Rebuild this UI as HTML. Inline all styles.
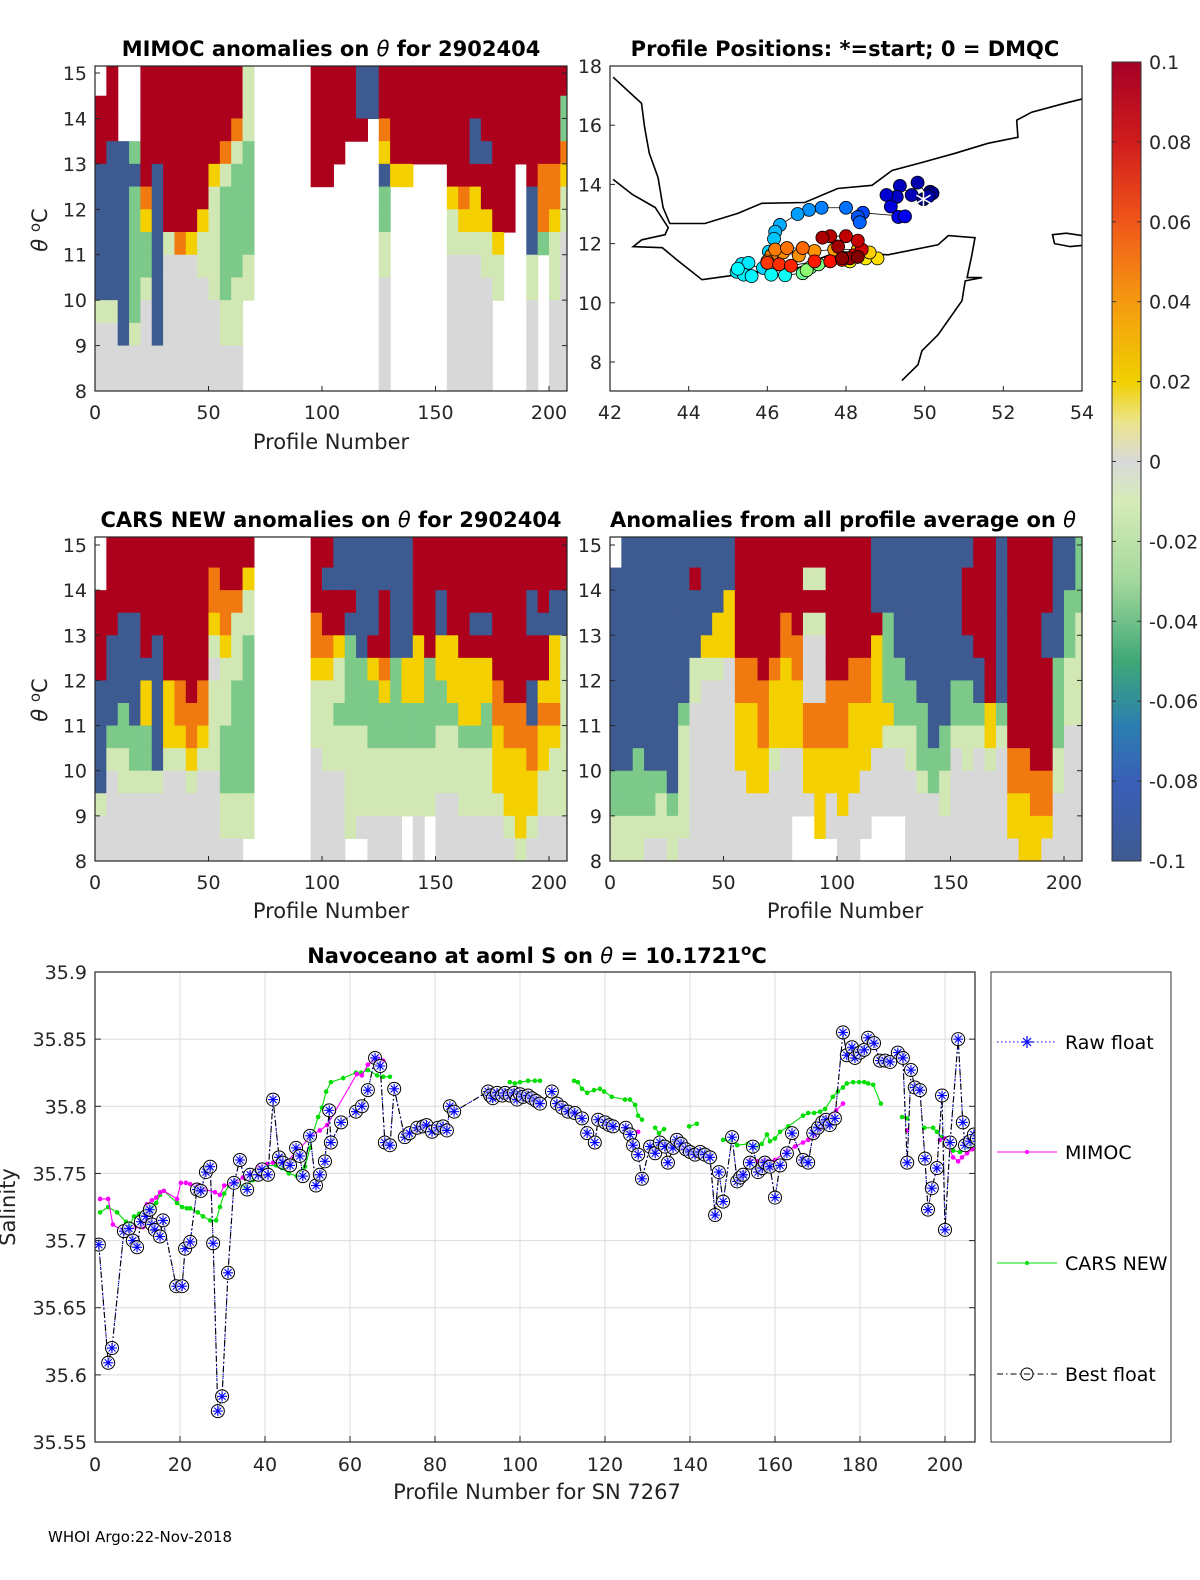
<!DOCTYPE html>
<html><head><meta charset="utf-8">
<style>
body{margin:0;background:#fff;}
svg text{font-family:"DejaVu Sans","Liberation Sans",sans-serif;}
</style></head>
<body>
<svg id="fig" width="1200" height="1575" viewBox="0 0 1200 1575" xmlns="http://www.w3.org/2000/svg">
<defs>
<linearGradient id="cbgrad" x1="0" y1="0" x2="0" y2="1">
<stop offset="0" stop-color="#a50026"/><stop offset="0.1" stop-color="#d01c1c"/><stop offset="0.2" stop-color="#f0561a"/><stop offset="0.3" stop-color="#f59a10"/><stop offset="0.4" stop-color="#f0d000"/><stop offset="0.45" stop-color="#ece48a"/><stop offset="0.5" stop-color="#d9d9d9"/><stop offset="0.55" stop-color="#d6ebb8"/><stop offset="0.65" stop-color="#a3d89c"/><stop offset="0.75" stop-color="#3fa876"/><stop offset="0.83" stop-color="#2b7fb0"/><stop offset="0.9" stop-color="#3a5fb8"/><stop offset="1" stop-color="#3d5a91"/>
</linearGradient>
<clipPath id="c1"><rect x="95" y="66" width="472" height="325"/></clipPath>
<clipPath id="c2"><rect x="610" y="66" width="472" height="325"/></clipPath>
<clipPath id="c3"><rect x="95" y="537" width="472" height="324"/></clipPath>
<clipPath id="c4"><rect x="610" y="537" width="472" height="324"/></clipPath>
<clipPath id="c5"><rect x="95" y="972" width="880" height="470"/></clipPath>
</defs>
<g id="hm1" clip-path="url(#c1)"></g>
<g id="hm3" clip-path="url(#c3)"></g>
<g id="hm4" clip-path="url(#c4)"></g>
<g id="map" clip-path="url(#c2)"></g>
<g id="bottom"></g>
<g id="axes"></g>

<rect x="1112" y="62" width="29" height="799" fill="url(#cbgrad)" stroke="#333" stroke-width="1"/>
<g id="cb"></g>

<text x="331" y="56" font-size="21" font-weight="bold" text-anchor="middle">MIMOC anomalies on <tspan font-style="italic" font-weight="normal">θ</tspan>  for 2902404</text>
<text x="845" y="56" font-size="21" font-weight="bold" text-anchor="middle">Profile Positions: *=start; 0 = DMQC</text>
<text x="331" y="527" font-size="21" font-weight="bold" text-anchor="middle">CARS NEW anomalies on <tspan font-style="italic" font-weight="normal">θ</tspan> for 2902404</text>
<text x="843" y="527" font-size="21" font-weight="bold" text-anchor="middle">Anomalies from all profile average on <tspan font-style="italic" font-weight="normal">θ</tspan></text>
<text x="537" y="963" font-size="21" font-weight="bold" text-anchor="middle">Navoceano at aoml S on <tspan font-style="italic" font-weight="normal">θ</tspan> = 10.1721<tspan dy="-8" font-size="15">o</tspan><tspan dy="8">C</tspan></text>
<text x="331" y="449" font-size="21" text-anchor="middle" fill="#222">Profile Number</text>
<text x="331" y="918" font-size="21" text-anchor="middle" fill="#222">Profile Number</text>
<text x="845" y="918" font-size="21" text-anchor="middle" fill="#222">Profile Number</text>
<text x="537" y="1499" font-size="21" text-anchor="middle" fill="#222">Profile Number for SN 7267</text>
<text transform="translate(47,230) rotate(-90)" font-size="21" text-anchor="middle" fill="#222"><tspan font-style="italic">θ</tspan> <tspan dy="-7" font-size="15">o</tspan><tspan dy="7">C</tspan></text>
<text transform="translate(47,700) rotate(-90)" font-size="21" text-anchor="middle" fill="#222"><tspan font-style="italic">θ</tspan> <tspan dy="-7" font-size="15">o</tspan><tspan dy="7">C</tspan></text>
<text transform="translate(15,1207) rotate(-90)" font-size="21" text-anchor="middle" fill="#222">Salinity</text>
<text x="48" y="1542" font-size="15">WHOI Argo:22-Nov-2018</text>

<g>
<rect x="991" y="972" width="180" height="470" fill="#fff" stroke="#333"/>
<g><line x1="997" y1="1042" x2="1057" y2="1042" stroke="#0000ff" stroke-dasharray="1.5,2.5"/><g stroke="#0000ff" stroke-width="1.2"><line x1="1021" y1="1042" x2="1033" y2="1042"/><line x1="1027" y1="1036" x2="1027" y2="1048"/><line x1="1023" y1="1038" x2="1031" y2="1046"/><line x1="1031" y1="1038" x2="1023" y2="1046"/></g><text x="1065" y="1049" font-size="19">Raw float</text></g>
<g><line x1="997" y1="1152" x2="1057" y2="1152" stroke="#ff00ff"/><circle cx="1027" cy="1152" r="2" fill="#ff00ff"/><text x="1065" y="1159" font-size="19">MIMOC</text></g>
<g><line x1="997" y1="1263" x2="1057" y2="1263" stroke="#00dd00"/><circle cx="1027" cy="1263" r="2" fill="#00dd00"/><text x="1065" y="1270" font-size="19">CARS NEW</text></g>
<g><line x1="997" y1="1374" x2="1057" y2="1374" stroke="#000" stroke-dasharray="6,3,1.5,3"/><circle cx="1027" cy="1374" r="6" fill="none" stroke="#000"/><text x="1065" y="1381" font-size="19">Best float</text></g>
</g>
</svg>
<script>
// ---------- heatmap data (rows: theta 15 -> 8 in 0.5 steps; columns: 5 profiles each) ----------
const hmLevels = {R:0.1,O:0.07,Y:0.04,g:-0.008,G:-0.035,B:-0.1,S:0};
const mimocCols = [".RRRBBBBBBgSSS","RRRBBBBBBBgSSS","...BBBBBBBBBSS","...GBGGGGGGgSS","RRRRROYGGgSSSS","RRRRBBBBBBBBSS","RRRRRRRgSSSSSS","RRRRRRROSSSSSS","RRRRRRRYSSSSSS","RRRRRRYggSSSSS","RRRRYgggggSSSS","RRROgGGGGGggSS","RROgGGGGGgggSS","gggGGGGGgg....","..............","..............","..............","..............","..............","RRRRR.........","RRRRR.........","RRRR..........","RRR...........","BBR...........","BB............","RROYBGGggSSSSS","RRRRY.........","RRRRY.........","RRRR..........","RRRR..........","RRRR..........","RRRRRYggSSSSSS","RRRRROYgSSSSSS","RRBBRYYgSSSSSS","RRRBRRYggSSSSS","RRRRRRRYgg....","RRRRRRR.......","RRRR..........","RRRRRBBBggSSSS","RRRROOOG......","RRRROOYgggSSSS","RGGOYggSSSSSSS"];
const carsCols = ["..RRRRBBBBBgSS","RRRRBBBBGgSSSS","RRRBBBBGGggSSS","RRRBBBBBGGgSSS","RRRRRBYYGGgSSS","RRRRBBBBBBgSSS","RRRRRRYYYgSSSS","RRRRRROOYgSSSS","RRRRRRROOYgSSS","RRRRRROOYgSSSS","ROOYgSggggSSSS","RROOYgggGGGggS","RROgggGGGGGggS","RYggGGGGGGGgg.","..............","..............","..............","..............","..............","RRROOYgggSSSSS","RBRROYggggSSSS","BBRRYggGggSSSS","BBRBGGGGggggg.","BBBBBGGGggggS.","BBBBRYGGGgggSS","BBRRROYGGgggSS","BBBBBGGGGgggSS","BBBBBYYGGggg..","RRRRYYYGGgggSS","RRRRRGGGGggg..","RRBBYYGGgggSSS","RRRRYYYGgggSSS","RRRRRYYYGgggSS","RRRBRYYYGgggSS","RRRBRYYGGgggSS","RRRRRROOYYYgSS","RRRRRRROOYYYgS","RRRRRRROOYYYYg","RRBBRRBBOOYYgS","RRRBRRYOYYggSS","RRBBYYYOYgggSS","RRBBggggggggSS"];
const avgCols = [".BBBBBBBBBGGgg","BBBBBBBBBBGGgg","BBBBBBBBBGGGgg","BBBBBBBBBBGGgS","BBBBBBBBBBGggS","BBBBBBBBBBBGgg","BBBBBBBGgggggS","BRBBBggSSSSSSS","BBBBYgSSSSSSSS","BBBYYgSSSSSSSS","BBYYYSSSSSSSSS","RRRRROOYYYSSSS","RRRRROOYYYYSSS","RRRRRROOOYYSSS","RRRRROYYYgSSSS","RRROOYYYYSSSSS","RRRROOYYYSSS..","RgRgSSSOOYYS..","RgRgSSSOOYYYY.","RRRRRROOOYYSS.","RRRRRROOOYYYSS","RRRRROOYYYYSSS","RRRRROOYYYSSS.","BBBRYYYYYSSS..","BBBGGGGYgSSS..","BBBBBGGGgSSS..","BBBBBBGGggSSSS","BBBBBBBGGGgSSS","BBBBBBBBBGGSSS","BBBBBBBBGGggSS","BBBBBBGGgSSSSS","BRRRBBGGggSSSS","RRRRRBBGgSSSSS","RRRRRRRYYgSSSS","BBBBBBBGgSSSSS","RRRRRRRRROOYYS","RRRRRRRRROOYYY","RRRRRRRRRROOYY","RRRBBRRRRROOYS","BBBBBGGGGggSSS","BBGGGgggSSSSSS","GGGgggggSSSSSS"];

// ---------- map data ----------
const mapLon = [49.97,50.14,50.2,50.1,49.82,49.67,49.37,49.29,49.03,49.14,49.33,49.5,48.43,48.3,48.35,48.0,47.38,47.06,46.77,46.32,46.2,46.17,46.04,45.89,45.35,45.52,45.22,45.4,45.6,45.25,46.1,46.45,46.9,47.1,47.3,47.0,48.1,48.5,48.8,48.6,48.3,47.7,47.2,46.8,46.4,46.1,46.0,46.2,46.5,46.9,46.0,46.3,46.6,47.2,47.6,47.9,48.2,48.4,48.3,48.0,47.6,47.4,47.8,48.1,47.9,48.3];
const mapLat = [13.5,13.75,13.7,13.6,14.06,13.64,13.95,13.58,13.64,13.25,12.9,12.92,13.04,12.9,12.72,13.21,13.21,13.14,13.0,12.63,12.4,12.16,11.73,11.18,11.31,11.35,11.05,10.95,10.9,11.15,10.95,10.93,11.0,11.2,11.3,11.1,11.4,11.5,11.5,11.7,11.8,11.8,11.75,11.6,11.7,11.6,11.4,11.8,11.85,11.85,11.35,11.3,11.25,11.4,11.4,11.45,11.6,11.8,12.1,12.25,12.25,12.2,11.9,11.5,11.5,11.55];
const mapProf = [1,3,5,7,9,11,13,15,17,19,21,23,40,43,46,49,52,55,58,61,64,66,68,70,72,73,74,75,76,77,79,80,100,102,104,106,130,133,136,139,142,150,151,152,153,154,155,156,158,160,170,172,174,176,178,179,180,190,192,194,196,198,200,202,204,206];
const coastArabia = [[42.08,17.62],[42.8,16.74],[42.88,15.93],[43.0,15.05],[43.22,14.24],[43.35,13.22],[43.52,12.68],[44.41,12.68],[45.25,13.02],[45.86,13.36],[46.95,13.39],[47.79,13.86],[48.66,13.97],[49.17,14.47],[49.93,14.74],[50.77,15.05],[51.61,15.39],[52.37,15.59],[52.34,16.17],[52.72,16.44],[53.56,16.74],[54.07,16.91]];
const coastAfrica = [[42.08,14.17],[42.57,13.66],[43.15,13.22],[43.48,12.54],[43.4,12.3],[42.81,12.13],[42.59,11.9],[43.33,11.86],[43.73,11.42],[44.34,10.78],[45.25,10.95],[46.12,11.12],[46.63,11.09],[47.39,11.52],[47.79,11.73],[49.07,11.62],[50.34,11.96],[50.6,12.27],[51.28,12.2],[51.2,11.62],[51.08,10.85],[51.46,10.85],[51.03,10.74],[50.95,10.07],[50.34,8.92],[49.93,8.38],[49.83,7.91],[49.42,7.37]];
const coastSocotra = [[53.25,12.3],[53.6,12.35],[54.1,12.25],[54.1,11.95],[53.7,11.9],[53.3,12.0]];

// ---------- salinity data ----------
const floatProf = [0.9,3.1,4.0,6.8,8.0,8.9,9.9,10.8,12.0,12.9,13.4,14.1,15.3,16.0,19.1,20.5,21.2,22.4,24.0,24.9,26.1,27.1,27.8,28.9,29.9,31.3,32.7,34.1,35.8,36.5,38.4,39.3,40.7,41.9,43.3,44.2,45.9,47.3,48.2,48.9,50.6,52.0,52.9,54.1,55.1,55.5,57.9,61.4,62.8,64.2,65.9,67.1,68.2,69.4,70.4,72.9,74,75.8,77.2,78,79.3,80.7,81.9,82.8,83.5,84.5,92.5,93,93.6,94.6,95.8,96.5,97.6,98.6,99.3,100,100.7,101.9,102.8,103.8,104.7,107.5,108.7,109.9,111.3,112.9,114.6,115.8,117.6,118.4,120,121,121.9,124.9,125.9,126.6,127.8,128.7,130.6,131.8,132.9,134.1,134.8,136,136.9,137.9,139,140,141.2,142.4,143.5,144.7,145.9,146.8,147.8,149.9,151.1,151.8,152.5,154.1,154.8,156,157,157.6,158.8,160,161.2,162.8,164,166.6,167.8,169,170.1,171.1,172,172.9,174.1,176,176.9,178.1,178.8,180,181,181.9,183.3,184.7,185.9,187.1,188.9,190.1,191.1,192,192.9,194.1,195.3,196,196.9,198.1,199.3,200,201.2,203.1,204.2,204.7,205.9,206.8,207.5];
const floatSal = [35.697,35.609,35.620,35.707,35.709,35.700,35.695,35.714,35.718,35.723,35.712,35.708,35.703,35.715,35.666,35.666,35.694,35.699,35.738,35.737,35.751,35.755,35.698,35.573,35.584,35.676,35.743,35.760,35.738,35.749,35.749,35.753,35.749,35.805,35.762,35.758,35.756,35.769,35.763,35.748,35.778,35.741,35.749,35.759,35.797,35.773,35.788,35.796,35.800,35.812,35.836,35.830,35.773,35.771,35.813,35.777,35.780,35.784,35.785,35.786,35.781,35.784,35.785,35.782,35.800,35.796,35.811,35.808,35.806,35.810,35.808,35.810,35.808,35.810,35.805,35.809,35.807,35.808,35.806,35.804,35.802,35.811,35.802,35.799,35.796,35.795,35.791,35.780,35.773,35.790,35.788,35.786,35.785,35.784,35.779,35.771,35.764,35.746,35.770,35.765,35.773,35.770,35.758,35.769,35.775,35.772,35.768,35.766,35.764,35.766,35.764,35.762,35.719,35.751,35.729,35.777,35.744,35.747,35.749,35.758,35.770,35.751,35.754,35.758,35.755,35.732,35.756,35.765,35.780,35.760,35.758,35.780,35.784,35.788,35.790,35.786,35.791,35.855,35.838,35.844,35.836,35.840,35.842,35.851,35.847,35.834,35.834,35.833,35.840,35.836,35.758,35.827,35.814,35.812,35.761,35.723,35.739,35.754,35.808,35.708,35.773,35.850,35.788,35.771,35.774,35.779,35.776];
const mimocProf = [1.2,3.1,4.2,7.1,9.4,11.3,12.2,13.4,14.4,15.3,16.2,19.3,20.2,21.4,22.4,24.2,25.9,28.2,29.4,30.4,31.8,33.4,34.8,36.5,38.4,40.5,41.9,43.5,45.2,51.3,52.9,54.6,61.6,62.8,64.2,65.4,66.6,67.8,100,127.8,130,154.1,155.8,157.6,158.8,160,162.8,164.7,166.6,167.8,169.4,170.6,171.8,172.9,174.4,176,180,191.1,195,198.8,200,201.9,203.1,204,205.2,206.4,207.5];
const mimocSal = [35.731,35.731,35.712,35.706,35.710,35.710,35.727,35.730,35.732,35.736,35.737,35.731,35.743,35.743,35.742,35.741,35.738,35.736,35.734,35.741,35.742,35.744,35.747,35.750,35.755,35.757,35.758,35.758,35.759,35.779,35.782,35.786,35.824,35.823,35.831,35.834,35.836,35.834,null,35.781,null,35.760,35.759,35.760,35.759,35.760,35.767,35.770,35.773,35.775,35.778,35.783,35.788,35.792,35.797,35.802,null,35.782,null,35.775,35.776,35.762,35.759,35.762,35.765,35.768,35.770];
const carsProf = [1.2,3.1,5.2,7.3,8.2,9.2,10.4,11.8,13.4,14.4,15.3,16.2,19.3,20.5,21.6,22.4,24.2,25.4,27.1,28.5,29.4,30.4,31.5,33.4,35.1,37.2,38.6,40.5,42.6,44,45.6,47.5,49.4,50.6,51.3,52.5,53.4,54.4,55.5,58.4,61.4,62.6,64.2,66.4,67.8,69.4,80,97.6,98.8,100,101.9,103.5,104.7,110,112.7,113.6,114.6,115.8,117.4,118.8,119.8,121.6,124.7,125.9,127.1,127.8,128.7,130,131.8,132.7,133.9,137,139.8,141.6,145,147.8,149.4,151.1,153.6,155.8,156.9,158.1,158.8,160,161.2,163.1,166.6,167.8,169.2,170.6,171.8,173.6,174.8,176,176.9,178.4,179.8,181,181.9,183.1,184.9,188,189.9,191.1,193,195.1,197.2,198.1,199.3,200.5,201.9,203.5,205.9,207.5];
const carsSal = [35.721,35.725,35.721,35.714,35.712,35.718,35.720,35.723,35.725,35.728,35.734,35.737,35.728,35.725,35.724,35.724,35.721,35.718,35.715,35.715,35.725,35.735,35.741,35.743,35.740,35.745,35.750,35.756,35.756,35.754,35.750,35.748,35.755,35.769,35.780,35.792,35.799,35.811,35.818,35.821,35.825,35.825,35.827,35.823,35.822,35.822,null,35.818,35.817,35.818,35.819,35.819,35.819,null,35.819,35.818,35.813,35.810,35.812,35.813,35.811,35.807,35.805,35.805,35.801,35.793,35.790,null,35.784,35.780,35.783,null,35.785,35.787,null,35.775,35.774,35.771,35.772,35.770,35.772,35.779,35.774,35.776,35.781,35.785,35.793,35.795,35.795,35.796,35.798,35.807,35.811,35.814,35.817,35.818,35.818,35.818,35.817,35.816,35.802,null,35.792,35.791,null,35.784,35.784,35.781,35.777,35.774,35.767,35.766,35.770,35.771];

const xTicksTop = [0,50,100,150,200];
const thetaTicks = [8,9,10,11,12,13,14,15];
const lonTicks = [42,44,46,48,50,52,54];
const latTicks = [8,10,12,14,16,18];
const salTicks = [35.55,35.6,35.65,35.7,35.75,35.8,35.85,35.9];
const salLabels = ["35.55","35.6","35.65","35.7","35.75","35.8","35.85","35.9"];
const profTicksBottom = [0,20,40,60,80,100,120,140,160,180,200];
const cbTicks = [0.1,0.08,0.06,0.04,0.02,0,-0.02,-0.04,-0.06,-0.08,-0.1];
const cbLabels = ["0.1","0.08","0.06","0.04","0.02","0","-0.02","-0.04","-0.06","-0.08","-0.1"];

const NS="http://www.w3.org/2000/svg";
function mk(parent,tag,attrs){const e=document.createElementNS(NS,tag);for(const k in attrs)e.setAttribute(k,attrs[k]);parent.appendChild(e);return e;}

function anomColor(v){
  const stops=[[-0.1,[61,90,145]],[-0.085,[58,95,184]],[-0.07,[43,127,176]],[-0.05,[63,168,118]],[-0.035,[124,201,138]],[-0.02,[170,218,158]],[-0.008,[210,232,180]],[0,[216,216,216]],[0.02,[236,228,138]],[0.04,[245,208,0]],[0.07,[240,122,16]],[0.085,[220,40,28]],[0.1,[173,0,29]]];
  if(v<=stops[0][0])return 'rgb('+stops[0][1]+')';
  for(let i=1;i<stops.length;i++){if(v<=stops[i][0]){const a=stops[i-1],b=stops[i];const t=(v-a[0])/(b[0]-a[0]);const c=a[1].map((x,j)=>Math.round(x+(b[1][j]-x)*t));return 'rgb('+c+')';}}
  return 'rgb('+stops[stops.length-1][1]+')';
}

function heatmap(gid,cols,x0,yTop,yBot){
  const g=document.getElementById(gid);
  const xs=p=>x0+p*2.27;
  const ys=t=>yBot-(t-8)*(yBot-yTop)/7;
  cols.forEach((col,ci)=>{
    for(let r=0;r<col.length;r++){
      const ch=col[r]; if(ch==='.')continue;
      const t1=15-0.5*r, t2=t1-0.5;
      const rc=mk(g,'rect',{x:xs(ci*5),y:ys(t1)-(r===0?10:0),width:xs(5)-xs(0)+0.6,height:ys(t2)-ys(t1)+0.6+(r===0?10:0),fill:anomColor(hmLevels[ch])});
      
      
    }
  });
}
heatmap('hm1',mimocCols,95,73,391);
heatmap('hm3',carsCols,95,545,861);
heatmap('hm4',avgCols,610,545,861);

function axesBox(x,y,w,h){const r=mk(document.getElementById('axes'),'rect',{x:x,y:y,width:w,height:h,fill:'none',stroke:'#262626','stroke-width':1.2});}
const ax=document.getElementById('axes');
function tickLabel(x,y,txt,anchor,size){const t=mk(ax,'text',{x:x,y:y,'font-size':size||19,'text-anchor':anchor,fill:'#262626'});t.textContent=txt;}

[[95,66,391,73],[95,537,861,545],[610,537,861,545]].forEach(([x0,top,bot,t15],i)=>{
  axesBox(x0,top,472,bot-top);
  thetaTicks.forEach(t=>{const y=bot-(t-8)*(bot-t15)/7;mk(ax,'line',{x1:x0,x2:x0+5,y1:y,y2:y,stroke:'#262626'});mk(ax,'line',{x1:x0+472,x2:x0+467,y1:y,y2:y,stroke:'#262626'});tickLabel(x0-8,y+7,String(t),'end');});
  xTicksTop.forEach(p=>{const x=x0+p*2.27;mk(ax,'line',{x1:x,x2:x,y1:bot,y2:bot-5,stroke:'#262626'});tickLabel(x,bot+28,String(p),'middle');});
});

// map
const mg=document.getElementById('map');
const lonX=l=>610+(l-42)*472/12, latY=a=>66+(18-a)*29.6;
axesBox(610,66,472,325);
latTicks.forEach(a=>{const y=latY(a);mk(ax,'line',{x1:610,x2:615,y1:y,y2:y,stroke:'#262626'});tickLabel(602,y+7,String(a),'end');});
lonTicks.forEach(l=>{const x=lonX(l);mk(ax,'line',{x1:x,x2:x,y1:391,y2:386,stroke:'#262626'});tickLabel(x,419,String(l),'middle');});
function coast(arr,close,name){const d=arr.map((p,i)=>(i?'L':'M')+lonX(p[0]).toFixed(1)+','+latY(p[1]).toFixed(1)).join('')+(close?'Z':'');const e=mk(mg,'path',{d:d,fill:'none',stroke:'#000','stroke-width':1.6});}
coast(coastArabia,false,'coast-arabia');coast(coastAfrica,false,'coast-africa');coast(coastSocotra,true,'coast-socotra');
function jet(t){const r=Math.min(1,Math.max(0,1.5-Math.abs(4*t-3))),g=Math.min(1,Math.max(0,1.5-Math.abs(4*t-2))),b=Math.min(1,Math.max(0,1.5-Math.abs(4*t-1)));return 'rgb('+[r,g,b].map(v=>Math.round(v*255))+')';}
mk(mg,'path',{d:mapLon.map((l,i)=>(i?'L':'M')+lonX(l)+','+latY(mapLat[i])).join(''),fill:'none',stroke:'#000','stroke-width':0.8});
mapLon.forEach((l,i)=>{const c=mk(mg,'circle',{cx:lonX(l),cy:latY(mapLat[i]),r:6.5,fill:jet(mapProf[i]/207),stroke:'#000','stroke-width':0.8});});
{const sx=lonX(mapLon[0]),sy=latY(mapLat[0]);const st=mk(mg,'g',{stroke:'#fff','stroke-width':1.5});
[[0,8],[7,4],[7,-4]].forEach(([a,b])=>mk(st,'line',{x1:sx-a,y1:sy-b,x2:sx+a,y2:sy+b}));}

// colorbar labels
const cg=document.getElementById('cb');
cbTicks.forEach((v,i)=>{const y=62+(0.1-v)/0.2*799;mk(cg,'line',{x1:1112,x2:1116,y1:y,y2:y,stroke:'#333'});mk(cg,'line',{x1:1141,x2:1137,y1:y,y2:y,stroke:'#333'});const t=mk(cg,'text',{x:1149,y:y+7,'font-size':19,fill:'#262626'});t.textContent=cbLabels[i];});

// bottom chart
const bg=document.getElementById('bottom');
const px=p=>95+p*4.25, sy=s=>1442-(s-35.55)*470/0.35;
salTicks.forEach((s,i)=>{const y=sy(s);mk(bg,'line',{x1:95,x2:975,y1:y,y2:y,stroke:'#dcdcdc'});mk(ax,'line',{x1:95,x2:101,y1:y,y2:y,stroke:'#262626'});mk(ax,'line',{x1:975,x2:969,y1:y,y2:y,stroke:'#262626'});tickLabel(87,y+7,salLabels[i],'end');});
profTicksBottom.forEach(p=>{const x=px(p);mk(bg,'line',{x1:x,x2:x,y1:972,y2:1442,stroke:'#dcdcdc'});mk(ax,'line',{x1:x,x2:x,y1:1442,y2:1436,stroke:'#262626'});tickLabel(x,1471,String(p),'middle');});
axesBox(95,972,880,470);
const cl=mk(bg,'g',{'clip-path':'url(#c5)'});
function linePath(xs,ys){let d='',pen=false;xs.forEach((p,i)=>{if(ys[i]===null){pen=false;return;}d+=(pen?'L':'M')+px(p).toFixed(1)+','+sy(ys[i]).toFixed(1);pen=true;});return d;}
function series(xs,ys,color,name,dash,dotR){const g=mk(cl,'g',{});
  mk(g,'path',{d:linePath(xs,ys),fill:'none',stroke:color,'stroke-width':1.1,'stroke-dasharray':dash||'none'});
  if(dotR)xs.forEach((p,i)=>{if(ys[i]===null)return;const c=mk(g,'circle',{cx:px(p),cy:sy(ys[i]),r:dotR,fill:color});});return g;}
series(carsProf,carsSal,'#00dd00','cars-series',null,2.3);
series(mimocProf,mimocSal,'#ff00ff','mimoc-series',null,2.3);
series(floatProf,floatSal,'#0000ff','raw-float-series','1.5,2.5',0);
const bf=series(floatProf,floatSal,'#000','best-float-series','6,3,1.5,3',0);
floatProf.forEach((p,i)=>{const x=px(p),y=sy(floatSal[i]);
  const g=mk(bf,'g',{});
  mk(g,'circle',{cx:x,cy:y,r:6.5,fill:'#fff','fill-opacity':0.6,stroke:'#000','stroke-width':1});
  const s=mk(g,'g',{stroke:'#0000ff','stroke-width':1.1});
  mk(s,'line',{x1:x-5,y1:y,x2:x+5,y2:y});mk(s,'line',{x1:x,y1:y-5,x2:x,y2:y+5});mk(s,'line',{x1:x-3.5,y1:y-3.5,x2:x+3.5,y2:y+3.5});mk(s,'line',{x1:x+3.5,y1:y-3.5,x2:x-3.5,y2:y+3.5});
});
</script>
</body></html>
